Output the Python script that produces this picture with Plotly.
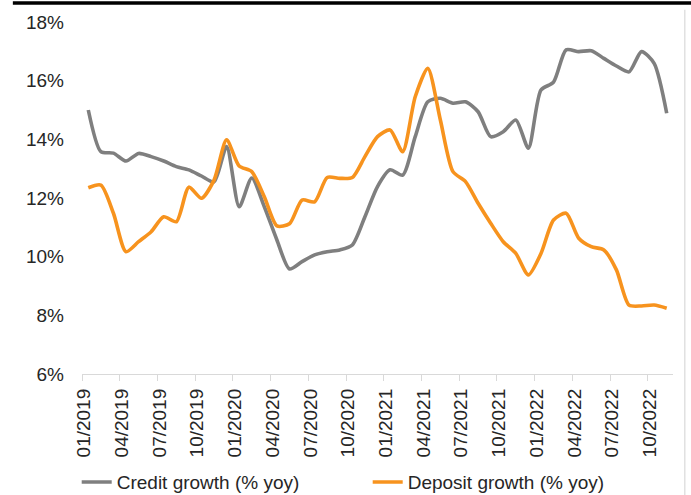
import plotly.graph_objects as go

months = [f"{m:02d}/{y}" for y in range(2019, 2023) for m in range(1, 13)][:47]

credit_growth = [15.0, 13.58, 13.53, 13.26, 13.52, 13.41, 13.26, 13.07, 12.96, 12.75, 12.55, 13.75,
                 11.7, 12.68, 11.7, 10.57, 9.58, 9.83, 10.06, 10.17, 10.23, 10.4, 11.36, 12.39,
                 12.96, 12.78, 14.09, 15.28, 15.4, 15.23, 15.28, 14.94, 14.09, 14.26, 14.66, 13.7,
                 15.68, 15.95, 17.05, 16.99, 17.02, 16.76, 16.5, 16.3, 16.99, 16.59, 14.89]

deposit_growth = [12.35, 12.44, 11.48, 10.17, 10.51, 10.85, 11.36, 11.19, 12.37, 11.99, 12.61, 13.98,
                  13.09, 12.9, 12.04, 11.05, 11.12, 11.93, 11.87, 12.7, 12.67, 12.7, 13.41, 14.09,
                  14.32, 13.58, 15.45, 16.42, 14.66, 12.9, 12.56, 11.82, 11.14, 10.51, 10.11, 9.38,
                  10.11, 11.25, 11.48, 10.63, 10.34, 10.23, 9.55, 8.35, 8.32, 8.35, 8.24]

series_names = ["Credit growth (% yoy)", "Deposit growth (% yoy)"]
series_colors = ["#7f7f7f", "#f7931e"]

y_ticks = [6, 8, 10, 12, 14, 16, 18]
y_labels = [f"{v}%" for v in y_ticks]

idx = list(range(len(months)))
tick_pos = [i - 0.5 for i in idx[::3]]
tick_text = months[::3]

fig = go.Figure()
for name, vals, col in zip(series_names, [credit_growth, deposit_growth], series_colors):
    fig.add_trace(go.Scatter(x=idx, y=vals, mode="lines", name=name,
                             line=dict(color=col, width=3.6, shape="spline", smoothing=0.7)))

fig.update_layout(
    width=691, height=495,
    margin=dict(l=82, r=18, t=22, b=121, autoexpand=False),
    paper_bgcolor="white", plot_bgcolor="white",
    font=dict(family="Liberation Sans, Arial, sans-serif", size=19, color="#262626"),
    showlegend=True,
    legend=dict(orientation="h", xref="container", yref="container",
                x=0.111, xanchor="left", y=0.026, yanchor="middle",
                bgcolor="rgba(0,0,0,0)",
                font=dict(size=19, color="#262626"), entrywidth=246, traceorder="normal",
                itemwidth=30),
    xaxis=dict(range=[-0.5, len(months) - 0.5], tickmode="array", tickvals=tick_pos,
               ticktext=tick_text, tickangle=-90, showgrid=False, zeroline=False,
               showline=True, linecolor="#d9d9d9", linewidth=1.3, automargin=False,
               ticks="outside", ticklen=6, tickcolor="#d9d9d9", tickwidth=1.3,
               tickfont=dict(size=19), ticklabelshift=2),
    yaxis=dict(range=[6, 18], tickmode="array", tickvals=y_ticks, ticktext=y_labels,
               showgrid=False, zeroline=False, showline=False, ticks="", automargin=False,
               tickfont=dict(size=19), ticklabelstandoff=17),
    shapes=[
        dict(type="line", xref="paper", yref="paper", x0=-0.117, x1=1.04, y0=1.054, y1=1.054,
             line=dict(color="black", width=3.5)),
        dict(type="line", xref="paper", yref="paper", x0=1.02, x1=1.02, y0=1.035, y1=-0.35,
             line=dict(color="#d9d9d9", width=1.2)),
    ],
)

fig.write_html("out.html", config={"displayModeBar": False},
               post_script="document.body.style.margin='0';")
